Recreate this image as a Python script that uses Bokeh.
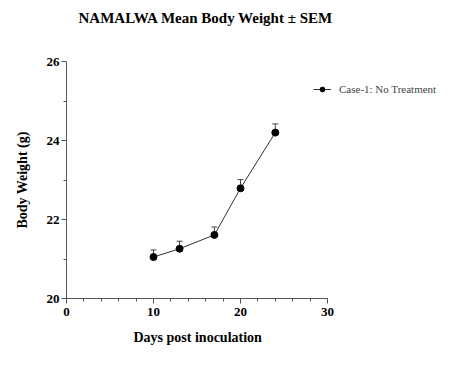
from bokeh.plotting import figure
from bokeh.models import (ColumnDataSource, Range1d, Whisker, TeeHead, Legend, LegendItem,
                          FixedTicker, Title)
from bokeh.embed import file_html
from bokeh.resources import INLINE

days = [10, 13, 17, 20, 24]
weight = [21.05, 21.26, 21.61, 22.79, 24.20]
sem = [0.18, 0.19, 0.20, 0.22, 0.22]
series_name = "Case-1: No Treatment"
x_ticks = [0, 10, 20, 30]
y_ticks = [20, 22, 24, 26]

upper = [w + s for w, s in zip(weight, sem)]
src = ColumnDataSource(dict(x=days, y=weight, upper=upper))

FONT = "Liberation Serif"
W, H = 445, 362
LEFT, TOP, BOTTOM = 66, 61, 64
AXIS_PX = 261  # pixels for 0..30 days
x_end = 30 * (W - LEFT) / AXIS_PX

p = figure(width=W, height=H, output_backend="svg", toolbar_location=None,
           x_range=Range1d(0, x_end), y_range=Range1d(20, 26),
           min_border_left=LEFT, min_border_right=0, min_border_top=TOP, min_border_bottom=BOTTOM,
           title="NAMALWA Mean Body Weight ± SEM\n\n")
p.title.text_font = FONT
p.title.text_font_size = "15px"
p.title.text_font_style = "bold"
p.title.text_color = "black"
p.title.align = "left"
p.title.offset = 12
p.title.standoff = 8
p.outline_line_color = None
p.grid.visible = False
p.background_fill_color = "white"
p.border_fill_color = "white"

p.xaxis.ticker = FixedTicker(ticks=x_ticks, minor_ticks=list(range(0, 31, 2)))
p.yaxis.ticker = FixedTicker(ticks=y_ticks, minor_ticks=[21, 23, 25])
p.xaxis.bounds = (0, 30)
for ax in (p.xaxis[0], p.yaxis[0]):
    ax.axis_line_color = "#555555"
    ax.major_tick_line_color = "#555555"
    ax.minor_tick_line_color = "#555555"
    ax.major_tick_in = 0
    ax.major_tick_out = 5
    ax.minor_tick_in = 0
    ax.minor_tick_out = 3
    ax.major_label_text_font = FONT
    ax.major_label_text_font_style = "bold"
    ax.major_label_text_font_size = "13px"
    ax.major_label_text_color = "black"
    ax.axis_label_text_font = FONT
    ax.axis_label_text_font_style = "bold"
    ax.axis_label_text_font_size = "14px"
    ax.axis_label_text_color = "black"
p.yaxis.axis_label = "Body Weight (g)"
p.xaxis.major_label_standoff = 4
p.yaxis.major_label_standoff = 2
p.yaxis.axis_label_standoff = 14

xlabel = Title(text="Days post inoculation", align="left", offset=67, standoff=18,
               text_font=FONT, text_font_style="bold", text_font_size="14px",
               text_color="black")
p.add_layout(xlabel, "below")

w = Whisker(source=src, base="x", upper="upper", lower="y", dimension="height",
            line_color="#444444", line_width=1,
            upper_head=TeeHead(size=6, line_color="#444444", line_width=1),
            lower_head=None)
p.add_layout(w)

ln = p.line("x", "y", source=src, line_color="#333333", line_width=1)
sc = p.scatter("x", "y", source=src, size=7, color="black")

legend = Legend(items=[LegendItem(label=series_name, renderers=[ln, sc])],
                location=(247, 203), border_line_color=None, background_fill_alpha=0,
                label_text_font=FONT, label_text_font_size="11px",
                glyph_width=18, glyph_height=12, padding=0, margin=0,
                label_standoff=8, label_height=12)
p.add_layout(legend, "center")

open("out.html", "w").write(file_html(p, INLINE))
